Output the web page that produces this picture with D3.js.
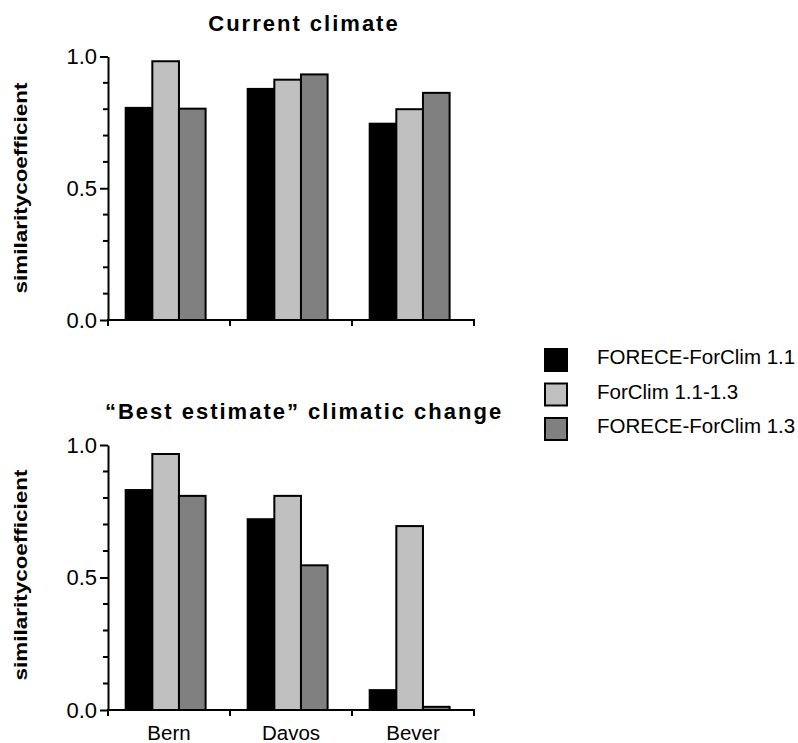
<!DOCTYPE html>
<html>
<head>
<meta charset="utf-8">
<script src="https://cdn.jsdelivr.net/npm/d3@7"></script>
<style>
	body { margin: 0; background: #fff; }
	text { font-family: "Liberation Sans", Arial, sans-serif; fill: #000; }
</style>
</head>
<body>
<svg width="798" height="743"></svg>
<script>
const categories = ['Bern', 'Davos', 'Bever'];
const seriesNames = ['FORECE-ForClim 1.1', 'ForClim 1.1-1.3', 'FORECE-ForClim 1.3'];
const seriesColors = ['#000000', '#c0c0c0', '#808080'];

// current climate
const forece11Current = [0.805, 0.877, 0.745];
const forclimCurrent = [0.982, 0.912, 0.800];
const forece13Current = [0.802, 0.932, 0.862];

// "best estimate" climatic change
const forece11Best = [0.830, 0.720, 0.075];
const forclimBest = [0.966, 0.808, 0.694];
const forece13Best = [0.808, 0.546, 0.012];

const yTicks = [0, 0.5, 1.0];
const yMinorTicks = [0.1, 0.2, 0.3, 0.4, 0.6, 0.7, 0.8, 0.9];

const svg = d3.select('svg');

const x0 = d3.scaleBand().domain(categories).range([108, 474]);
const x1 = d3.scaleBand().domain(seriesNames)
	.range([x0.bandwidth() * 0.145, x0.bandwidth() * 0.80]);

function buildRows(a, b, c) {
	return categories.map((cat, i) => ({
		cat: cat,
		values: [a[i], b[i], c[i]].map((v, j) => ({ name: seriesNames[j], value: v, color: seriesColors[j] }))
	}));
}

function drawPanel(title, titleY, rows, yTop, yBottom, labelY, showLabels) {
	const y = d3.scaleLinear().domain([0, 1]).range([yBottom, yTop]);
	const g = svg.append('g');

	// bars
	const groups = g.selectAll('g.grp')
		.data(rows)
		.enter().append('g')
		.attr('class', 'grp')
		.attr('transform', d => `translate(${x0(d.cat)},0)`);

	groups.selectAll('rect')
		.data(d => d.values)
		.enter().append('rect')
		.attr('x', d => x1(d.name))
		.attr('y', d => y(d.value))
		.attr('width', x1.bandwidth())
		.attr('height', d => y(0) - y(d.value))
		.attr('fill', d => d.color)
		.attr('stroke', '#000')
		.attr('stroke-width', 2);

	// y axis
	const yAxis = g.append('g')
		.attr('transform', 'translate(108,0)')
		.call(d3.axisLeft(y).tickValues(yTicks).tickFormat(d3.format('.1f')).tickSize(8).tickSizeOuter(0).tickPadding(3));
	yAxis.select('.domain').attr('stroke-width', 2);
	yAxis.selectAll('.tick line').attr('stroke-width', 2);
	yAxis.selectAll('.tick text')
		.style('font-family', '"Liberation Sans", Arial, sans-serif')
		.style('font-size', '22px')
		.attr('fill', '#000');

	g.append('g')
		.selectAll('line')
		.data(yMinorTicks)
		.enter().append('line')
		.attr('x1', 103).attr('x2', 108)
		.attr('y1', d => y(d)).attr('y2', d => y(d))
		.attr('stroke', '#000')
		.attr('stroke-width', 2);

	// x axis
	const xAxis = g.append('g')
		.attr('transform', `translate(0,${yBottom})`);
	xAxis.append('line')
		.attr('x1', 107).attr('x2', 475)
		.attr('stroke', '#000').attr('stroke-width', 2);
	const edges = categories.map(c => x0(c)).concat([x0.range()[1]]);
	xAxis.selectAll('line.tk')
		.data(edges)
		.enter().append('line')
		.attr('class', 'tk')
		.attr('x1', d => d).attr('x2', d => d)
		.attr('y1', 0).attr('y2', 6)
		.attr('stroke', '#000').attr('stroke-width', 2);

	if (showLabels) {
		xAxis.selectAll('text')
			.data(categories)
			.enter().append('text')
			.attr('x', d => x0(d) + x0.bandwidth() / 2)
			.attr('y', 30)
			.attr('text-anchor', 'middle')
			.style('font-size', '20.5px')
			.text(d => d);
	}

	// title
	g.append('text')
		.attr('x', 304)
		.attr('y', titleY)
		.attr('text-anchor', 'middle')
		.style('font-size', '22px')
		.style('font-weight', 'bold')
		.style('letter-spacing', '2px')
		.text(title);

	// y label
	g.append('text')
		.attr('transform', `translate(27,${labelY}) rotate(-90)`)
		.attr('text-anchor', 'middle')
		.attr('textLength', 211)
		.attr('lengthAdjust', 'spacingAndGlyphs')
		.style('font-size', '18px')
		.style('font-weight', 'bold')
		.text('similaritycoefficient');
}

drawPanel('Current climate', 31, buildRows(forece11Current, forclimCurrent, forece13Current), 56.5, 320, 188, false);
drawPanel('\u201cBest estimate\u201d climatic change', 419, buildRows(forece11Best, forclimBest, forece13Best), 445, 710, 575, true);

// legend
const legend = svg.append('g')
	.selectAll('g')
	.data(seriesNames)
	.enter().append('g')
	.attr('transform', (d, i) => `translate(545,${349 + i * 34.5})`);

legend.append('rect')
	.attr('width', 22)
	.attr('height', 22)
	.attr('fill', (d, i) => seriesColors[i])
	.attr('stroke', '#000')
	.attr('stroke-width', 2);

legend.append('text')
	.attr('x', 52)
	.attr('y', 15)
	.style('font-size', '20.5px')
	.text(d => d);
</script>
</body>
</html>
